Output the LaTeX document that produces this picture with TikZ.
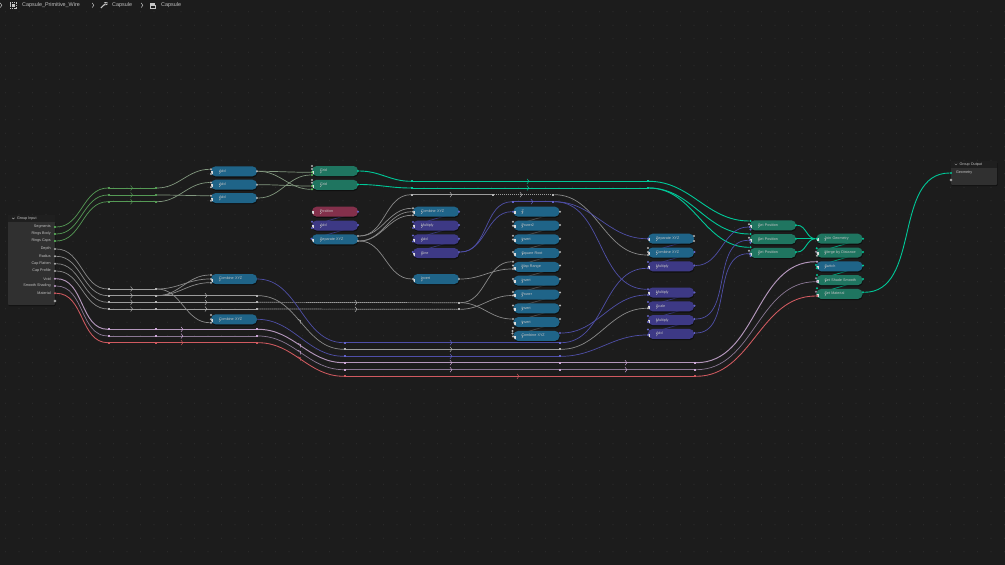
\documentclass[tikz,border=0pt]{standalone}
\usepackage{fontspec}
\setmainfont{Liberation Sans}
\usetikzlibrary{positioning, shadows}

\definecolor{canvasbg}{HTML}{1C1C1C}
\definecolor{griddot}{HTML}{2D2D2D}
\definecolor{tealnode}{HTML}{1F7560}
\definecolor{bluenode}{HTML}{1F6488}
\definecolor{violetnode}{HTML}{3D3985}
\definecolor{rosenode}{HTML}{83304B}
\definecolor{labeltext}{HTML}{C4C4C4}
\definecolor{panelbody}{HTML}{303030}
\definecolor{panelhead}{HTML}{1F1F1F}
\definecolor{tealwire}{HTML}{00C898}
\definecolor{greenwire}{HTML}{559A55}
\definecolor{mixwire}{HTML}{82987F}
\definecolor{greywire}{HTML}{8A8A8A}
\definecolor{dashgrey}{HTML}{9C9C9C}
\definecolor{violetwire}{HTML}{4F4FA8}
\definecolor{lilacwire}{HTML}{B497BC}
\definecolor{duskwire}{HTML}{8A7894}
\definecolor{redwire}{HTML}{D05A60}
\definecolor{sockgrey}{HTML}{B4B4B4}
\definecolor{sockviolet}{HTML}{6363C7}
\definecolor{sockgreen}{HTML}{63C763}
\definecolor{socklilac}{HTML}{CCA6D6}
\definecolor{sockdusk}{HTML}{9A8AA0}

\pgfdeclarelayer{wires}
\pgfsetlayers{wires,main}

\newcommand{\nodefont}{\fontsize{3.7}{4}\selectfont}

\begin{document}
\begin{tikzpicture}[x=1pt, y=-1pt]

  % Node and wire styles
  \tikzset{
    basenode/.style={
      rectangle, rounded corners=4.6pt, minimum width=46pt, minimum height=10pt,
      inner sep=0pt, text width=38pt, text height=2.6pt, text depth=.8pt, align=left,
      text=labeltext, font=\nodefont, execute at begin node={\hspace*{4pt}},
      drop shadow={shadow xshift=.5pt, shadow yshift=-1.2pt, opacity=.45, fill=black},
      path picture={
        \draw[sharp corners, labeltext, line width=.3pt, shift={(path picture bounding box.west)}]
          (4.2,-1.3) -- (5.4,0) -- (4.2,1.3);
        \draw[sharp corners, labeltext!60, line width=.25pt, shift={(path picture bounding box.east)}]
          (-5.6,-1) rectangle (-4.2,1) (-3.8,-1) rectangle (-2.4,1);
      }
    },
    tealbox/.style={basenode, fill=tealnode},
    bluebox/.style={basenode, fill=bluenode},
    violetbox/.style={basenode, fill=violetnode},
    rosebox/.style={basenode, fill=rosenode},
    stacked/.style={below=3.4pt of #1},
    socket/.style={circle, inner sep=0pt, minimum size=2.3pt},
    rerouted/.style={rectangle, inner sep=0pt, minimum size=1.8pt},
    socklabel/.style={inner sep=0pt, text=labeltext, font=\nodefont},
    link/.style={out=0, in=180, looseness=1},
    wire/.style={line width=.7pt},
    busdash/.style={wire, dash pattern=on 1.4pt off .6pt},
    backlink/.style={line width=.8pt},
    chev/.style={line width=.45pt, line join=miter},
  }

  \path[use as bounding box] (0,0) rectangle (1005,565);

  % Canvas and its dots
  \begin{pgfonlayer}{wires}
    \fill[canvasbg] (0,0) rectangle (1005,565);
    \foreach \i in {0,...,74} \foreach \j in {0,...,40}
      \fill[griddot] (5.5+13.5*\i,11.8+13.5*\j) circle [radius=.6];
  \end{pgfonlayer}

  % Group input panel
  \node[rectangle, rounded corners=1pt, fill=panelbody, minimum width=47pt, minimum height=84pt, inner sep=0pt,
    drop shadow={shadow xshift=.5pt, shadow yshift=-1.2pt, opacity=.45, fill=black}] (groupinput) at (31.5,263) {};
  \node[rectangle, fill=panelhead, minimum width=47pt, minimum height=6.5pt, inner sep=0pt] (inputhead) at (31.5,218.5) {};
  \node[socklabel, right=9pt of inputhead.west] (inputtitle) {Group Input};
  \draw[labeltext, line width=.3pt] (12.2,217.8) -- (13.4,219) -- (14.6,217.8);

  \foreach \n/\t/\y/\c in {
    segments/Segments/227/sockgreen, ringsbody/Rings Body/234/sockgreen, ringscaps/Rings Caps/241/sockgreen,
    depth/Depth/249/sockgrey, radius/Radius/256.3/sockgrey, capflatten/Cap Flatten/263.7/sockgrey, capprofile/Cap Profile/271/sockgrey,
    void/Void/278.7/socklilac, smoothshading/Smooth Shading/286/socklilac, material/Material/293.3/redwire}{
    \node[socket, fill=\c] (\n) at (55,\y) {};
    \node[socklabel, left=2.8pt of \n] (\n label) {\t};
  }
  \node[socket, draw=labeltext!70, line width=.3pt, fill=panelbody] (inputextra) at (55,301) {};

  % Group output panel
  \node[rectangle, rounded corners=1pt, fill=panelbody, minimum width=46pt, minimum height=24pt, inner sep=0pt,
    drop shadow={shadow xshift=.5pt, shadow yshift=-1.2pt, opacity=.45, fill=black}] (groupoutput) at (974,173) {};
  \node[rectangle, fill=panelhead, minimum width=46pt, minimum height=7pt, inner sep=0pt] (outputhead) at (974,164.5) {};
  \node[socklabel, right=8.5pt of outputhead.west] (outputtitle) {Group Output};
  \draw[labeltext, line width=.3pt] (954.8,163.8) -- (956,165) -- (957.2,163.8);
  \node[socket, fill=tealwire] (outgeometry) at (951,173) {};
  \node[socklabel, right=3.5pt of outgeometry] (outgeometrylabel) {Geometry};
  \node[socket, draw=labeltext!70, line width=.3pt, fill=panelbody] (outputextra) at (951,180) {};

  % Add column
  \node[bluebox] (adda) at (234,171.3) {Add};
  \node[bluebox] (addb) at (234,184.7) {Add};
  \node[bluebox] (addc) at (234,198) {Add};

  % Combine nodes below them
  \node[bluebox] (combinea) at (234,279) {Combine XYZ};
  \node[bluebox] (combineb) at (234,319.3) {Combine XYZ};

  % Grid, position column
  \node[tealbox] (grida) at (335,171) {Grid};
  \node[tealbox, stacked=grida] (gridb) {Grid};
  \node[rosebox] (position) at (335,211.7) {Position};
  \node[violetbox, stacked=position] (addpos) {Add};
  \node[bluebox, stacked=addpos] (sepa) {Separate XYZ};

  % Second column
  \node[bluebox] (combinec) at (436,211.7) {Combine XYZ};
  \node[violetbox, stacked=combinec] (multa) {Multiply};
  \node[violetbox, stacked=multa] (addd) {Add};
  \node[violetbox, stacked=addd] (sine) {Sine};
  \node[bluebox] (inverta) at (436,279) {Invert};

  % Third column
  \node[bluebox] (zfloat) at (536.5,211.7) {Z};
  \node[bluebox, stacked=zfloat] (powertwo) {Power2};
  \node[bluebox, stacked=powertwo] (invertb) {Invert};
  \node[bluebox, stacked=invertb] (squareroot) {Square Root};
  \node[bluebox, stacked=squareroot] (maprange) {Map Range};
  \node[bluebox, stacked=maprange] (invertc) {Invert};
  \node[bluebox, stacked=invertc] (power) {Power};
  \node[bluebox, stacked=power] (invertd) {Invert};
  \node[bluebox, stacked=invertd] (inverte) {Invert};
  \node[bluebox, stacked=inverte] (combined) {Combine XYZ};

  % Fourth column
  \node[bluebox] (sepb) at (671,238.7) {Separate XYZ};
  \node[bluebox, stacked=sepb] (combinee) {Combine XYZ};
  \node[violetbox, stacked=combinee] (multb) {Multiply};
  \node[violetbox] (multc) at (671,292.5) {Multiply};
  \node[violetbox, stacked=multc] (scale) {Scale};
  \node[violetbox, stacked=scale] (multd) {Multiply};
  \node[violetbox, stacked=multd] (adde) {Add};

  % Set position and last column
  \node[tealbox] (setposa) at (773,225.3) {Set Position};
  \node[tealbox, stacked=setposa] (setposb) {Set Position};
  \node[tealbox, stacked=setposb] (setposc) {Set Position};
  \node[tealbox] (joingeo) at (839.5,238.7) {Join Geometry};
  \node[tealbox, stacked=joingeo] (mergedist) {Merge by Distance};
  \node[bluebox, stacked=mergedist] (switch) {Switch};
  \node[tealbox, stacked=switch] (shadesmooth) {Set Shade Smooth};
  \node[tealbox, stacked=shadesmooth] (setmaterial) {Set Material};

  % Sockets
  \foreach \n/\x/\y in {
    addaa/211/169.3, addab/211/174, addba/211/182.5, addbb/211/187.3, addca/211/195.7, addcb/211/200.7,
    addao/257/171.3, addbo/257/184.7, addco/257/198,
    gridaa/312/166, gridab/312/169, gridba/312/180, gridbb/312/182.7,
    comaa/211/275, comab/211/279, comac/211/282.7, comba/211/315, combb/211/319.3, combc/211/322.7,
    sepao/358/236, sepap/358/241, comca/413/208.3, comcb/413/211.7, comcc/413/215.3, inva/413/279, invao/459/279,
    ztop/560/211.7, powtwoa/513/221.7, powtwob/513/225.7, powtwoo/560/225, invba/513/235.7, invbb/513/239.5, invbo/560/238.7,
    sqrti/513/252, sqrto/560/252, mapa/513/261.7, mapb/513/265.5, mapc/513/269, mapo/560/265.5,
    invci/513/279, invco/560/279, powa/513/292, powb/513/295.5, powo/560/292.5, invdi/513/305.5, invdo/560/305.5,
    invei/513/319, inveo/560/319, comda/513/327.7, comdb/512.5/331, comdc/512.5/333.5, comdd/513/336.5,
    sepboa/694/236, sepbob/694/241, comea/648/248, comeb/648/252, comec/648/255, scaleb/648/308.3,
    setaa/749/224.3, setba/749/237.7, setca/749/250.7, mergeb/817/255.7}
    \node[socket, fill=sockgrey] (\n) at (\x,\y) {};
  \foreach \n/\x/\y in {
    poso/358/211.7, addposa/312/221.7, addposb/312/228, addposo/358/225, sepai/311.5/238.7,
    comco/459/211.7, multaa/413/222, multab/413/228, multao/459/225, addda/413/235.5, adddb/413/241.5, adddo/459/238.7,
    sinei/412.7/252, sineo/459/252, zin/513/211.7, comdo/560/333,
    sepbi/648/238.7, comeo/694.5/252, multba/648/262, multbb/648/268.3, multbo/694.5/265.5,
    multca/648/289.3, multcb/648/295, multco/694.5/292.5, scalea/648/302, scaleo/694.5/305.7,
    multda/648/316, multdb/648/322, multdo/694.5/319, addea/648/329.5, addeb/648/335, addeo/694.5/333,
    setab/749.5/227, setac/750.5/229.5, setbb/749.5/240.3, setbc/750.5/242.7, setcb/749.5/253.7, setcc/750.5/256}
    \node[socket, fill=sockviolet] (\n) at (\x,\y) {};
  \foreach \n/\x/\y in {gridac/312/172.3, gridad/312/175, gridbc/312/186, gridbd/312/189.3}
    \node[socket, fill=sockgreen] (\n) at (\x,\y) {};
  \foreach \n/\x/\y in {
    gridao/358/171, gridbo/358/184.5, setai/750.5/221, setbi/750.5/234, setci/750.5/247.3,
    setao/796/225.3, setbo/796/238.7, setco/796/252, joini/816.7/238.7, joino/863/238.7,
    mergea/816.7/248.3, mergeo/863/252, switchb/816/265, switchc/817/268.3, switcho/863/265.5,
    smootha/817/275, smootho/863/279, mata/817/288.3, mato/863/292.3}
    \node[socket, fill=tealwire] (\n) at (\x,\y) {};
  \foreach \n/\x/\y/\c in {
    mergec/816/251.7/sockdusk, switcha/817/261.7/socklilac, smoothb/816/278.3/sockdusk, smoothc/817/281.7/socklilac,
    matb/816/291.7/sockdusk, matc/817/296/redwire}
    \node[socket, fill=\c] (\n) at (\x,\y) {};

  % Reroute dots
  \foreach \n/\y/\c in {a/188/greenwire, b/195/greenwire, c/201.7/greenwire,
    d/289/sockgrey, e/295.7/sockgrey, f/302.3/sockgrey, g/309/sockgrey,
    k/329.3/socklilac, l/336/socklilac, m/342.7/redwire}{
    \node[rerouted, fill=\c] (left\n) at (109,\y) {};
    \node[rerouted, fill=\c] (mid\n) at (156,\y) {};
  }
  \foreach \n/\x/\y/\c in {
    tealaa/412/181.3/tealwire, tealba/412/188/tealwire, tealab/647.7/181.3/tealwire, tealbb/647.7/188/tealwire,
    topa/412/194.7/sockgrey, topb/492.7/194.7/sockgrey, topc/553.3/194.7/sockgrey,
    purpa/513/201.7/sockviolet, purpb/553.3/201.7/sockviolet,
    busa/257/295.7/sockgrey, busb/257/302.3/sockgrey, busc/257/309/sockgrey,
    busd/459.3/302.7/sockgrey, buse/459.3/309.3/sockgrey,
    lowa/257/329.3/socklilac, lowb/257/336/socklilac, lowc/257/342.7/redwire,
    rowa/345/342.7/sockviolet, rowb/345/349.3/sockgrey, rowc/345/356.3/sockviolet,
    rowd/345/362.7/socklilac, rowe/345/369.7/socklilac, rowf/345/376.3/redwire,
    enda/560/342.7/sockviolet, endb/560/349.3/sockgrey, endc/560/356.3/sockviolet,
    endd/560/362.7/socklilac, ende/560/369.7/socklilac,
    lastd/695/362.7/socklilac, laste/695/369.7/socklilac, lastf/695/376.3/redwire}
    \node[rerouted, fill=\c] (\n) at (\x,\y) {};

  \begin{pgfonlayer}{wires}
    % Links running behind the stacked nodes
    \foreach \a/\b in {position/addpos, addpos/sepa, combinec/multa, multa/addd, addd/sine,
      sepb/combinee, combinee/multb, multc/scale, scale/multd, multd/adde}
      \draw[backlink, violetwire!70!black] (\a.east) -- (\b.west);
    \foreach \a/\b in {zfloat/powertwo, powertwo/invertb, invertb/squareroot, squareroot/maprange, maprange/invertc,
      invertc/power, power/invertd, invertd/inverte, inverte/combined}
      \draw[backlink, greywire!55!black] (\a.east) -- (\b.west);
    \foreach \a/\b in {joingeo/mergedist, mergedist/switch, switch/shadesmooth, shadesmooth/setmaterial}
      \draw[backlink, tealwire!80!black] (\a.east) -- (\b.west);

    % Green inputs
    \foreach \a/\b in {segments/lefta, ringsbody/leftb, ringscaps/leftc}
      \draw[wire, greenwire] (\a) to[link] (\b);
    \foreach \a/\b in {lefta/mida, leftb/midb, leftc/midc}
      \draw[wire, greenwire] (\a) -- (\b);
    \foreach \a/\b in {mida/addaa, midb/addca, midc/addba}
      \draw[wire, mixwire] (\a) to[link] (\b);
    \foreach \a/\b in {addao/gridac, addao/gridbd, addbo/gridbc, addco/gridad}
      \draw[wire, mixwire] (\a) to[link] (\b);

    % Grey inputs
    \foreach \a/\b in {depth/leftd, radius/lefte, capflatten/leftf, capprofile/leftg}
      \draw[wire, greywire] (\a) to[link] (\b);
    \foreach \a/\b in {leftd/midd, lefte/mide, leftf/midf, leftg/midg, mide/busa, midf/busb, midg/busc, busb/busd, busc/buse}
      \draw[busdash, dashgrey] (\a) -- (\b);
    \foreach \a/\b in {midd/comab, mide/comaa, mide/comac, midd/combc, busa/rowb}
      \draw[wire, greywire] (\a) to[link] (\b);

    % Void, smooth shading, material
    \draw[wire, lilacwire, line width=.95pt] (void) to[link] (leftk);
    \draw[wire, duskwire] (smoothshading) to[link] (leftl);
    \draw[wire, redwire, line width=.85pt] (material) to[link] (leftm);
    \draw[wire, lilacwire, line width=.95pt] (leftk) -- (midk) -- (lowa);
    \draw[busdash, duskwire] (leftl) -- (midl) -- (lowb);
    \draw[wire, redwire, line width=.85pt] (leftm) -- (midm) -- (lowc);
    \draw[wire, lilacwire, line width=.95pt] (lowa) to[link] (rowd);
    \draw[wire, duskwire] (lowb) to[link] (rowe);
    \draw[wire, redwire, line width=.85pt] (lowc) to[link] (rowf);

    % Bottom rows
    \foreach \a/\b in {combinea/rowa, combineb/rowc}
      \draw[wire, violetwire] (\a.east) to[link] (\b);
    \foreach \a/\b in {rowa/enda, rowc/endc}
      \draw[busdash, violetwire] (\a) -- (\b);
    \draw[busdash, dashgrey] (rowb) -- (endb);
    \draw[wire, lilacwire, line width=.95pt] (rowd) -- (endd) -- (lastd);
    \draw[busdash, duskwire] (rowe) -- (ende) -- (laste);
    \draw[wire, redwire, line width=.85pt] (rowf) -- (lastf);
    \draw[wire, lilacwire, line width=.95pt] (lastd) to[link] (switcha);
    \draw[wire, duskwire] (laste) to[link] (smoothc);
    \draw[wire, redwire, line width=.85pt] (lastf) to[link] (matc);

    % Teal geometry links
    \foreach \a/\b in {gridao/tealaa, gridbo/tealba, tealab/setai, tealbb/setbi, tealbb/setci,
      setao/joini, setbo/joini, setco/joini, mato/outgeometry}
      \draw[wire, tealwire, line width=.9pt] (\a) to[link] (\b);
    \foreach \a/\b in {tealaa/tealab, tealba/tealbb}
      \draw[wire, tealwire, line width=.9pt] (\a) -- (\b);

    % Middle of the picture
    \foreach \a/\b in {sepao/topa, sepao/comca, sepap/comcb, sepap/comcc, sepap/inva,
      invao/mapc, busd/mapa, busd/invei, buse/powb, topc/comec, endb/scaleb}
      \draw[wire, greywire] (\a) to[link] (\b);
    \draw[busdash, dashgrey] (topa) -- (topb) -- (topc);
    \draw[busdash, violetwire] (purpa) -- (purpb);
    \foreach \a/\b in {sineo/purpa, sineo/zin, purpb/sepbi, purpb/multca, comdo/multcb, enda/multbb, endc/addeb,
      multbo/setab, multdo/setbb, addeo/setcb}
      \draw[wire, violetwire] (\a) to[link] (\b);
  \end{pgfonlayer}

  % Chevrons on the wires
  \foreach \x/\y/\c in {
    131.6/188/greenwire, 131.6/195/greenwire, 131.6/201.7/greenwire,
    131.6/289/sockgrey, 131.6/295.7/sockgrey, 131.6/302.3/sockgrey, 131.6/309/sockgrey,
    182/329.3/socklilac, 182/336/socklilac, 182/342.7/redwire,
    206/295.7/sockgrey, 206/302.3/sockgrey, 206/309/sockgrey, 356/302.7/sockgrey, 356/309.3/sockgrey,
    451/194.7/sockgrey, 521/194.7/sockgrey, 532/201.7/sockviolet, 528/181.3/tealwire, 528/188/tealwire,
    451/342.7/sockviolet, 451/349.3/sockgrey, 451/356.3/sockviolet, 451/362.7/socklilac, 451/369.7/socklilac,
    518/376.3/redwire, 626/362.7/socklilac, 626/369.7/socklilac}
    \draw[chev, \c, shift={(\x,\y)}] (-1,-2.5) -- (.9,0) -- (-1,2.5);
  \foreach \x/\y/\c in {300/321/sockgrey, 300/345/socklilac, 300/352/socklilac, 300/358.3/redwire}
    \draw[chev, \c, shift={(\x,\y)}, rotate=32] (-1,-2.5) -- (.9,0) -- (-1,2.5);

  % Breadcrumb along the top
  \node[socklabel, font=\fontsize{5.4}{6}\selectfont, anchor=west] (crumbfile) at (22,5.3) {Capsule\_Primitive\_Wire};
  \node[socklabel, font=\fontsize{5.4}{6}\selectfont, anchor=west] (crumbmod) at (112,5.3) {Capsule};
  \node[socklabel, font=\fontsize{5.4}{6}\selectfont, anchor=west] (crumbtree) at (161,5.3) {Capsule};
  \foreach \x in {1,93,142}
    \draw[labeltext, line width=.5pt] (\x-.8,3) -- (\x+.8,5.3) -- (\x-.8,7.6);
  \draw[labeltext, line width=.5pt, dash pattern=on 1.2pt off .6pt] (10.3,2.5) rectangle (16.7,8.3);
  \fill[labeltext] (11.8,4) rectangle (15.2,6.8);
  \draw[labeltext, line width=1.1pt] (100.8,8) -- (105.5,3.6);
  \draw[labeltext, line width=.8pt] (104.3,2.4) -- (107.5,2.8) (105.6,5) -- (107.5,4);
  \fill[labeltext] (150,3) rectangle (155,5);
  \draw[labeltext, line width=.5pt] (150.5,5.5) rectangle (155.5,8);

\end{tikzpicture}
\end{document}
